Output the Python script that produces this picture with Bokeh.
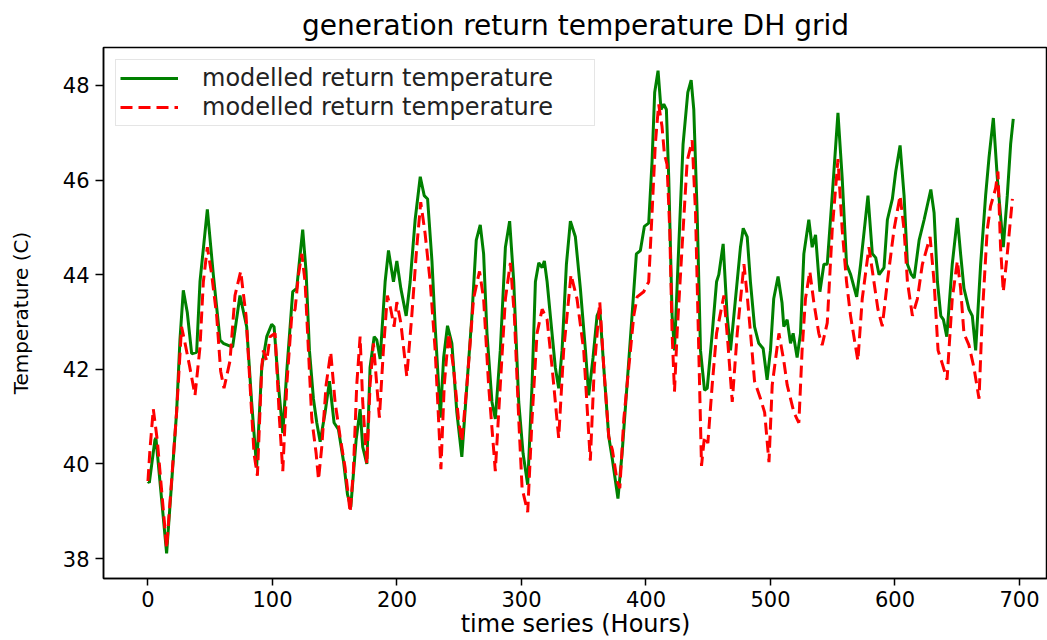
from bokeh.plotting import figure
from bokeh.models import Range1d, FixedTicker, Legend, LegendItem, ColumnDataSource
from bokeh.embed import file_html
from bokeh.resources import INLINE

# ---- data ----
green_hours = [0, 1.1, 5.6, 6.4, 15, 23, 25.7, 28.4, 31.6, 35.1, 39.1, 41.8, 47.7, 52.5, 57.9, 60.5, 68,
               73.9, 79.3, 83.3, 87.3, 91.4, 95.4, 99.4, 101.3, 104.8, 108.3, 111.5, 116.3, 119.5, 121.7,
               124.3, 127, 129.7, 132.9, 135.6, 138.3, 142.3, 145.8, 149.5, 153, 157, 160.3, 162.9, 167.2,
               170.4, 172.5, 175.8, 178.4, 181.7, 183.8, 186.5, 190.5, 193.2, 197.2, 199.9, 203.1, 207.4,
               210.6, 214.6, 218.7, 221.9, 224.6, 228.1, 230.7, 233.4, 234.8, 237.5, 240.6, 244.1, 248.1,
               252.1, 256.2, 260.2, 263.7, 266.9, 269.6, 272.3, 276.3, 279, 283, 287.1, 290.5, 293.8,
               297.8, 301.3, 305, 308.5, 311.2, 313.9, 316.6, 318.4, 320.6, 323.2, 327.2, 329.9, 332.6,
               336.1, 339.3, 343.3, 347.3, 351.4, 354, 357.5, 360.7, 362.9, 366.1, 370.1, 373, 377.5,
               380.8, 384.8, 388.8, 392.3, 395.5, 398.7, 402.2, 404.9, 407, 409.7, 412.1, 414.3, 416.4,
               418.3, 421, 422.9, 426.3, 429.8, 433.6, 436.3, 438.4, 441.1, 443.8, 447, 449.2, 453.2,
               456.7, 458.5, 462, 465.2, 467.9, 471.9, 475.9, 478.1, 481.3, 483.9, 487.2, 490.6, 494.1,
               497.3, 500, 502.6, 506.1, 509.3, 510.7, 513.4, 516.1, 518.2, 521.4, 524.1, 526.8, 530.8,
               533.5, 536.2, 539.7, 542.9, 545.6, 549.6, 554.2, 557.6, 561.1, 564.4, 569.2, 572.4, 578.3,
               581.8, 584.5, 587.2, 591.2, 593.9, 597.9, 600.6, 604.1, 607.3, 610, 613.2, 615.4, 619.4,
               623.4, 628.8, 631.4, 634.1, 636.8, 638.9, 641.6, 646, 650.1, 652.7, 655.4, 659.4, 662.1,
               664.8, 668.8, 672.8, 675.5, 679, 682.2, 687, 690.2, 692.9, 695]
green_temps = [39.64, 39.6, 40.51, 40.55, 38.11, 41.09, 42.62, 43.67, 43.2, 42.33, 42.36, 43.85, 45.38, 44.0,
               42.62, 42.55, 42.47, 43.56, 42.9, 41.3, 39.93, 42.04, 42.69, 42.95, 42.9, 41.67, 40.65, 41.96,
               43.64, 43.71, 44.29, 44.95, 44.07, 42.4, 41.38, 40.87, 40.47, 41.09, 41.75, 40.87, 40.73, 40.07,
               39.35, 39.09, 40.51, 41.16, 40.36, 40.0, 42.04, 42.69, 42.62, 42.22, 43.85, 44.51, 43.85, 44.29,
               43.71, 43.13, 43.85, 45.16, 46.07, 45.67, 45.6, 44.29, 42.9, 41.67, 40.98, 42.25, 42.92, 42.55,
               41.09, 40.15, 41.67, 43.13, 44.73, 45.05, 44.44, 42.76, 41.31, 40.95, 42.4, 44.58, 45.13, 43.85,
               41.31, 40.22, 39.56, 41.67, 43.85, 44.25, 44.15, 44.29, 43.85, 43.13, 42.04, 41.6, 42.4, 44.22,
               45.13, 44.8, 43.71, 42.4, 41.45, 42.25, 43.13, 43.27, 42.04, 40.58, 40.1, 39.27, 40.22, 41.67,
               43.13, 44.44, 44.51, 45.02, 45.09, 46.4, 47.85, 48.31, 47.49, 47.6, 47.49, 46.04, 43.13, 42.4,
               44.58, 46.76, 47.85, 48.11, 47.49, 45.31, 42.4, 41.56, 41.6, 42.76, 43.85, 44.0, 44.65, 43.13,
               42.4, 43.49, 44.58, 44.98, 44.8, 43.85, 42.9, 42.55, 42.44, 41.78, 42.4, 43.49, 43.96, 43.4,
               42.9, 43.05, 42.55, 42.76, 42.25, 42.76, 44.44, 45.16, 44.58, 44.84, 43.64, 44.22, 44.22, 45.67,
               47.42, 46.04, 44.22, 44.0, 43.53, 44.22, 45.67, 44.44, 44.36, 44.0, 44.15, 45.16, 45.6, 46.18,
               46.73, 45.67, 44.22, 44.0, 43.93, 44.73, 45.16, 45.8, 45.31, 43.85, 43.13, 43.05, 42.69, 44.22,
               45.2, 44.44, 43.71, 43.27, 43.13, 42.4, 44.22, 45.67, 46.47, 47.31, 46.04, 44.58, 45.67, 46.76,
               47.29]

red_hours = [0, 1.6, 4.3, 7.5, 15, 23, 27, 29.8, 33.2, 37.8, 41.8, 44.5, 47.7, 51.2, 55.2, 58.4, 61.1, 65.9,
             69.9, 74.5, 78.8, 82, 85.2, 87.9, 91.4, 92.7, 95.4, 98.1, 102.1, 105.6, 108.3, 111.5, 115.5,
             118.2, 120.9, 123.6, 126.2, 128.9, 131.6, 135.1, 137, 139.6, 143.1, 146.8, 150.3, 154.3, 158.3,
             162.4, 165, 167.7, 170.4, 172.5, 175.8, 178.4, 181.1, 183.8, 185.9, 189.1, 192.3, 195, 197.7,
             199.9, 203.1, 207.9, 211.9, 215.9, 219.1, 222.6, 226.7, 230.7, 233.4, 235.3, 238, 241.5, 245.4,
             249.4, 252.1, 256.2, 261.5, 266.3, 269.6, 273.6, 279, 283, 287.1, 291.1, 294.3, 297.8, 300.5,
             305, 308.5, 312.5, 316.6, 320.6, 324.6, 329.9, 333.9, 339.8, 344.6, 350, 355.3, 358.5, 362.9,
             366.1, 370.1, 373, 376.8, 379, 382.2, 386.2, 390.2, 392.9, 398.2, 402.2, 404.9, 407.5, 410.2,
             412.9, 414.8, 416.9, 419.1, 421, 422.9, 425, 429, 433.1, 437.1, 439.8, 442.4, 444.6, 447,
             449.7, 453.2, 456.7, 462.6, 465.8, 469.3, 473.3, 478.7, 481.3, 484, 487.2, 492, 495.3, 498.8,
             501.4, 506.8, 510.7, 513.4, 516.1, 518.8, 522.8, 525.4, 528.1, 531.6, 534.8, 538.8, 541.5,
             545.6, 549.6, 554.2, 557.6, 561.1, 564.3, 570.2, 573.7, 579.1, 583.1, 586.3, 589.8, 593.9,
             599.2, 604.1, 607.3, 610, 614, 618, 622, 628.2, 631.4, 634.6, 638.1, 641.8, 646, 650.1, 652.7,
             655.4, 659.4, 663.4, 667.5, 670.1, 674.1, 676.8, 680.8, 682.7, 684.8, 687, 690.2, 694.3]
red_temps = [39.64, 40.3, 41.16, 40.5, 38.22, 41.09, 42.9, 42.55, 42.1, 41.45, 42.47, 43.85, 44.58, 44.0,
             43.13, 41.96, 41.6, 42.18, 43.56, 44.07, 43.13, 41.67, 40.22, 39.75, 42.04, 42.4, 42.18, 42.69,
             42.76, 40.95, 39.85, 41.67, 43.13, 43.27, 44.0, 44.44, 43.85, 42.4, 40.95, 40.22, 39.67, 40.36,
             41.67, 42.36, 41.31, 40.58, 39.93, 38.98, 39.85, 41.67, 42.69, 41.31, 40.0, 41.67, 42.55, 41.67,
             40.98, 42.4, 43.56, 43.27, 42.9, 43.42, 42.98, 41.85, 43.13, 44.58, 45.53, 44.87, 43.85, 42.4,
             40.95, 39.89, 41.67, 42.76, 42.04, 40.95, 40.47, 41.67, 43.49, 44.07, 43.49, 41.67, 39.85, 41.67,
             43.49, 44.25, 43.13, 40.95, 39.49, 38.98, 40.95, 42.76, 43.27, 43.05, 42.04, 40.55, 42.4, 44.0,
             43.49, 42.4, 40.07, 42.04, 43.42, 42.04, 40.58, 40.3, 39.64, 39.49, 40.95, 42.04, 43.13, 43.53,
             43.64, 43.85, 45.31, 46.76, 47.6, 47.13, 46.55, 46.33, 44.95, 42.76, 41.53, 42.76, 44.58, 46.4,
             46.84, 45.31, 42.4, 39.96, 40.58, 40.44, 41.67, 42.76, 43.56, 42.55, 41.31, 42.76, 44.22, 43.56,
             42.76, 41.75, 41.38, 41.09, 40.04, 41.67, 42.76, 42.18, 41.67, 41.38, 41.09, 40.87, 42.4, 43.49,
             44.07, 43.42, 42.76, 42.51, 42.98, 44.95, 46.44, 44.95, 43.85, 43.13, 42.18, 43.49, 44.58, 43.85,
             43.27, 42.91, 43.85, 44.95, 45.67, 44.95, 43.85, 43.13, 43.49, 44.22, 44.8, 43.85, 42.4, 42.11,
             41.78, 43.49, 44.29, 43.71, 42.76, 42.51, 42.04, 41.38, 43.13, 44.95, 45.45, 45.82, 46.18, 44.58,
             43.64, 44.44, 45.6]

x_ticks = [0, 100, 200, 300, 400, 500, 600, 700]
y_ticks = [38, 40, 42, 44, 46, 48]
series_label = "modelled return temperature"
title_text = "generation return temperature DH grid"
x_label = "time series (Hours)"
y_label = "Temperature (C)"

FONT = "DejaVu Sans"

p = figure(width=1047, height=640, output_backend="svg", toolbar_location=None,
           x_range=Range1d(-35.7, 722.5), y_range=Range1d(37.58, 48.8),
           min_border_left=103, min_border_right=0, min_border_top=47, min_border_bottom=62,
           title=title_text)
p.background_fill_color = "white"
p.border_fill_color = "white"
p.outline_line_color = "black"
p.outline_line_width = 1.5

p.title.align = "center"
p.title.text_font = FONT
p.title.text_font_size = "28px"
p.title.text_font_style = "normal"
p.title.text_color = "black"
p.title.standoff = 11

p.xgrid.visible = False
p.ygrid.visible = False

for ax in (p.xaxis[0], p.yaxis[0]):
    ax.axis_line_color = "black"
    ax.axis_line_width = 1.5
    ax.major_tick_line_color = "black"
    ax.major_tick_line_width = 1.5
    ax.major_tick_in = 0
    ax.minor_tick_line_color = None
    ax.major_label_text_font = FONT
    ax.major_label_text_font_size = "21px"
    ax.major_label_text_color = "black"
    ax.axis_label_text_font = FONT
    ax.axis_label_text_font_style = "normal"
    ax.axis_label_text_color = "black"

p.xaxis.ticker = FixedTicker(ticks=x_ticks)
p.yaxis.ticker = FixedTicker(ticks=y_ticks)
p.xaxis.major_tick_out = 7
p.yaxis.major_tick_out = 8
p.xaxis.major_label_standoff = 5
p.yaxis.major_label_standoff = 6
p.xaxis.axis_label = x_label
p.yaxis.axis_label = y_label
p.xaxis.axis_label_text_font_size = "24px"
p.yaxis.axis_label_text_font_size = "20px"
p.xaxis.axis_label_standoff = 0
p.yaxis.axis_label_standoff = 27

gsrc = ColumnDataSource(dict(x=green_hours, y=green_temps))
rsrc = ColumnDataSource(dict(x=red_hours, y=red_temps))
g = p.line("x", "y", source=gsrc, line_color="green", line_width=3)
r = p.line("x", "y", source=rsrc, line_color="red", line_width=3, line_dash="12 6")

legend = Legend(items=[LegendItem(label=series_label, renderers=[g]),
                       LegendItem(label=series_label, renderers=[r])],
                location="top_left")
legend.margin = 12
legend.padding = 4
legend.spacing = 1
legend.glyph_width = 58
legend.glyph_height = 24
legend.label_height = 24
legend.label_width = 388
legend.label_standoff = 24
legend.label_text_font = FONT
legend.label_text_font_size = "24px"
legend.label_text_color = "#222222"
legend.border_line_color = "#cccccc"
legend.border_line_width = 1.5
legend.background_fill_color = "white"
legend.background_fill_alpha = 0.8
p.add_layout(legend)

open("out.html", "w").write(file_html(p, INLINE))
